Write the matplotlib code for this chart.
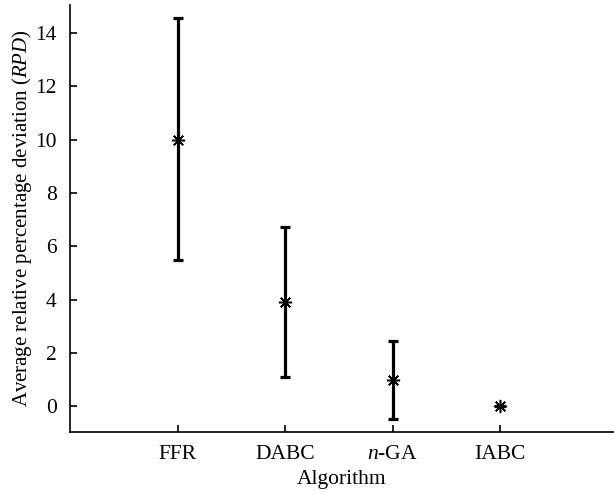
import matplotlib
matplotlib.use("Agg")
import matplotlib.pyplot as plt
import numpy as np

algorithms = ["FFR", "DABC", "$n$-GA", "IABC"]
means = [10.0, 3.9, 1.0, 0.0]
upper = [14.57, 6.72, 2.47, 0.0]
lower = [5.47, 1.12, -0.47, 0.0]

plt.rcParams['font.family'] = ['Liberation Serif', 'DejaVu Serif']
plt.rcParams['mathtext.fontset'] = 'custom'
plt.rcParams['mathtext.rm'] = 'Liberation Serif'
plt.rcParams['mathtext.it'] = 'Liberation Serif:italic'

fig = plt.figure(figsize=(6.14, 4.94), dpi=100)
ax = fig.add_axes([0.114, 0.1255, 0.886, 0.8645])

x = np.arange(1, len(algorithms) + 1)
m = np.array(means)
yerr = np.vstack([m - np.array(lower), np.array(upper) - m])
ax.errorbar(x, m, yerr=yerr, fmt='none', ecolor='black', elinewidth=2.3,
            capsize=3.3, capthick=2.3)
ax.plot(x, m, linestyle='none', marker=(8, 2, 0), markersize=9.5,
        markeredgewidth=1.1, color='black')

ax.set_xlim(0, 5.06)
ax.set_ylim(-0.96, 15.05)
ax.set_xticks(x)
ax.set_xticklabels(algorithms)
ax.set_yticks(np.arange(0, 15, 2))
ax.tick_params(direction='in', length=5, width=1.2, labelsize=15.5, pad=9)
ax.tick_params(axis='y', pad=9.5)
for s in ['top', 'right']:
    ax.spines[s].set_visible(False)
for s in ['left', 'bottom']:
    ax.spines[s].set_linewidth(1.2)
ax.set_xlabel("Algorithm", fontsize=15.5, labelpad=5)
ax.set_ylabel("Average relative percentage deviation ($\\mathit{RPD}$)", fontsize=15, labelpad=1)

fig.savefig("out.png", dpi=100)
